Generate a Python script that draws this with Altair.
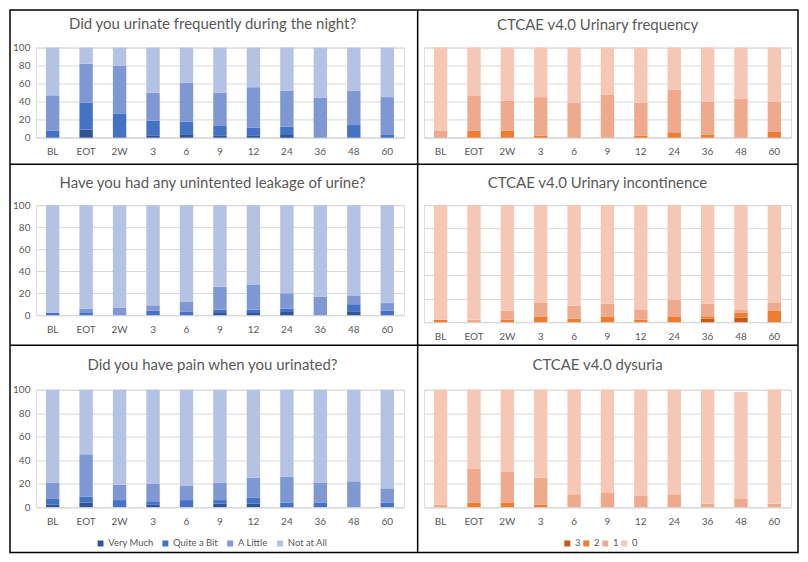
import altair as alt
import pandas as pd

FONT = "Lato"
TEXT_GRAY = "#595959"
GRID_GRAY = "#D9D9D9"

TIMEPOINTS = ["BL", "EOT", "2W", "3", "6", "9", "12", "24", "36", "48", "60"]

QOL_LEVELS = ["Very Much", "Quite a Bit", "A Little", "Not at All"]
QOL_COLORS = ["#2F5597", "#4472C4", "#7F97D3", "#B4C2E4"]
CTCAE_GRADES = ["3", "2", "1", "0"]
CTCAE_COLORS = ["#C55A11", "#ED7D31", "#EFA98C", "#F6C7B5"]

# Did you urinate frequently during the night? (% of patients)
night_very_much = [0, 9, 0, 2, 3, 2, 2, 3, 0, 0, 0]
night_quite_a_bit = [8, 30, 27, 17, 15, 11, 9, 9, 0, 14, 3]
night_a_little = [39, 43, 53, 31, 43, 37, 45, 40, 44, 38, 42]
night_not_at_all = [53, 18, 20, 50, 39, 50, 44, 48, 56, 48, 55]

# Have you had any unintented leakage of urine?
leak_very_much = [0, 0, 0, 0, 0, 2, 2, 3, 0, 3, 0]
leak_quite_a_bit = [2, 2, 0, 4, 3, 3, 3, 3, 0, 7, 4]
leak_a_little = [0, 4, 7, 5, 9, 21, 23, 14, 17, 8, 7]
leak_not_at_all = [98, 94, 93, 91, 88, 74, 72, 80, 83, 82, 89]

# Did you have pain when you urinated?
pain_very_much = [2, 4, 0, 2, 0, 3, 3, 0, 0, 0, 0]
pain_quite_a_bit = [5, 5, 6, 3, 6, 3, 5, 4, 4, 0, 4]
pain_a_little = [14, 36, 13, 15, 12, 15, 17, 22, 17, 22, 12]
pain_not_at_all = [79, 55, 81, 80, 82, 79, 75, 74, 79, 78, 84]

# CTCAE v4.0 Urinary frequency (grades 3, 2, 1, 0)
freq_g3 = [0, 0, 0, 0, 0, 0, 0, 0, 0, 0, 0]
freq_g2 = [0, 8, 8, 2, 0, 0, 2, 6, 3, 0, 7]
freq_g1 = [8, 39, 33, 43, 39, 48, 37, 47, 37, 43, 33]
freq_g0 = [92, 53, 59, 55, 61, 52, 61, 47, 60, 57, 60]

# CTCAE v4.0 Urinary incontinence
inc_g3 = [0, 0, 0, 0, 0, 0, 0, 0, 3, 4, 0]
inc_g2 = [2, 0, 2, 5, 3, 5, 2, 5, 2, 4, 10]
inc_g1 = [0, 2, 8, 12, 11, 11, 9, 14, 11, 3, 7]
inc_g0 = [98, 98, 90, 83, 86, 84, 89, 81, 84, 89, 83]

# CTCAE v4.0 dysuria
dys_g3 = [0, 0, 0, 0, 0, 0, 0, 0, 0, 0, 0]
dys_g2 = [0, 4, 4, 2, 0, 0, 0, 0, 0, 0, 0]
dys_g1 = [2, 29, 26, 23, 11, 12, 10, 11, 3, 7, 3]
dys_g0 = [98, 67, 70, 75, 89, 88, 90, 89, 97, 91, 97]

ONE = pd.DataFrame({"k": [0]})


def long_table(levels, series):
    rows = []
    for rank, (lvl, vals) in enumerate(zip(levels, series)):
        for t, v in zip(TIMEPOINTS, vals):
            rows.append({"time": t, "level": lvl, "rank": rank, "pct": v})
    return pd.DataFrame(rows)


def stacked(df, levels, colors, show_y, legend=None):
    color_kwargs = dict(scale=alt.Scale(domain=levels, range=colors))
    if legend is None:
        color_kwargs["legend"] = None
    else:
        color_kwargs["legend"] = legend
    return alt.Chart(df).mark_bar().encode(
        x=alt.X("time:N", sort=TIMEPOINTS,
                scale=alt.Scale(paddingInner=0.6, paddingOuter=0.3),
                axis=alt.Axis(title=None, labelAngle=0, ticks=False, tickSize=0,
                              domain=True, domainColor=GRID_GRAY, domainWidth=1,
                              labelColor=TEXT_GRAY, labelFont=FONT, labelFontSize=10,
                              labelPadding=14, labelBaseline="middle", grid=False)),
        y=alt.Y("pct:Q", stack="zero",
                scale=alt.Scale(domain=[0, 100], nice=False),
                axis=alt.Axis(title=None, values=[0, 20, 40, 60, 80, 100], grid=True,
                              gridColor=GRID_GRAY, gridWidth=1, domain=False,
                              ticks=False, tickSize=0, labels=show_y, labelPadding=6,
                              labelColor=TEXT_GRAY, labelFont=FONT, labelFontSize=10)),
        color=alt.Color("level:N", **color_kwargs),
        order=alt.Order("rank:Q", sort="ascending"),
    )


def title_text(text, x, y):
    return alt.Chart(ONE).mark_text(
        text=text, font=FONT, fontSize=15, color=TEXT_GRAY, align="center",
        baseline="alphabetic"
    ).encode(x=alt.value(x), y=alt.value(y))


def legend(x, col_pad):
    return alt.Legend(title=None, orient="none", legendX=x, legendY=149,
                      direction="horizontal", symbolType="square", symbolSize=36,
                      symbolStrokeWidth=0, labelFont=FONT, labelFontSize=9.5,
                      labelColor=TEXT_GRAY, labelOffset=3, columnPadding=col_pad,
                      padding=0)


LW, RW = 369, 368
LTX, RTX = 177, 174  # title centres relative to plot left edge

tl_bars = stacked(
    long_table(QOL_LEVELS, [night_very_much, night_quite_a_bit, night_a_little, night_not_at_all]),
    QOL_LEVELS, QOL_COLORS, True)
tr_bars = stacked(
    long_table(CTCAE_GRADES, [freq_g3, freq_g2, freq_g1, freq_g0]),
    CTCAE_GRADES, CTCAE_COLORS, False)
ml_bars = stacked(
    long_table(QOL_LEVELS, [leak_very_much, leak_quite_a_bit, leak_a_little, leak_not_at_all]),
    QOL_LEVELS, QOL_COLORS, True)
mr_bars = stacked(
    long_table(CTCAE_GRADES, [inc_g3, inc_g2, inc_g1, inc_g0]),
    CTCAE_GRADES, CTCAE_COLORS, False)
bl_bars = stacked(
    long_table(QOL_LEVELS, [pain_very_much, pain_quite_a_bit, pain_a_little, pain_not_at_all]),
    QOL_LEVELS, QOL_COLORS, True, legend=legend(60, 7))
br_bars = stacked(
    long_table(CTCAE_GRADES, [dys_g3, dys_g2, dys_g1, dys_g0]),
    CTCAE_GRADES, CTCAE_COLORS, False, legend=legend(139, 0))

# frame of the figure (pixels relative to the top-left plot origin)
L, R, T, B = -26, 764, -37.7, 506.3
frame = alt.Chart(ONE).mark_rect(fillOpacity=0, stroke="black", strokeWidth=1.5).encode(
    x=alt.value(L), x2=alt.value(R), y=alt.value(T), y2=alt.value(B))
vline = alt.Chart(ONE).mark_rule(color="black", strokeWidth=1.5).encode(
    x=alt.value(382.7), y=alt.value(T), y2=alt.value(B))
hline1 = alt.Chart(ONE).mark_rule(color="black", strokeWidth=1.5).encode(
    x=alt.value(L), x2=alt.value(R), y=alt.value(117))
hline2 = alt.Chart(ONE).mark_rule(color="black", strokeWidth=1.5).encode(
    x=alt.value(L), x2=alt.value(R), y=alt.value(298.3))

tl = alt.layer(
    tl_bars, title_text("Did you urinate frequently during the night?", LTX, -18.7),
    frame, vline, hline1, hline2
).properties(width=LW, height=90.3)
tr = alt.layer(
    tr_bars, title_text("CTCAE v4.0 Urinary frequency", RTX, -17.7)
).properties(width=RW, height=90.3)
ml = alt.layer(
    ml_bars, title_text("Have you had any unintented leakage of urine?", LTX, -17.3)
).properties(width=LW, height=110.3)
mr = alt.layer(
    mr_bars, title_text("CTCAE v4.0 Urinary incontinence", RTX, -17.3)
).properties(width=RW, height=117.3)
bl = alt.layer(
    bl_bars, title_text("Did you have pain when you urinated?", LTX, -19.8)
).properties(width=LW, height=117.7)
br = alt.layer(
    br_bars, title_text("CTCAE v4.0 dysuria", RTX, -19.5)
).properties(width=RW, height=117.7)

chart = alt.concat(
    tl, tr, ml, mr, bl, br, columns=2, spacing={"row": 67, "column": 20},
    bounds="flush", align="each"
).resolve_scale(color="independent").properties(padding=0).configure_view(
    stroke=None
).configure(font=FONT)

chart.save("out.html", embed_options={"renderer": "svg", "actions": False})
